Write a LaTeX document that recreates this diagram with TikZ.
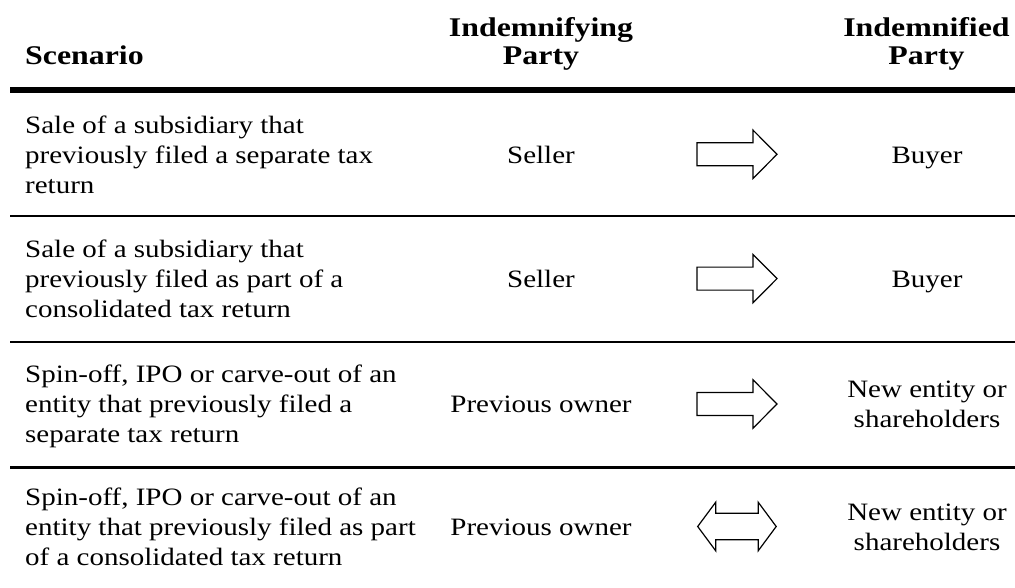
\documentclass[tikz,border=0pt]{standalone}
\usepackage{fontspec}
\setmainfont{Liberation Serif}[FakeStretch=1.16]
\newfontfamily\hdfont{Liberation Serif}[FakeStretch=1.18]
\begin{document}
\begin{tikzpicture}[x=1pt,y=-1pt,
  body/.style={inner sep=0pt, font=\fontsize{25}{30}\selectfont},
  bodyL/.style={body, anchor=base west},
  bodyC/.style={body, anchor=base},
  head/.style={inner sep=0pt, font=\hdfont\bfseries\fontsize{27}{30}\selectfont, anchor=base},
  headL/.style={head, anchor=base west},
  thinrule/.style={line width=2.7pt},
  thickrule/.style={line width=5.4pt},
  arrowshape/.style={draw=black, line width=1.2pt, fill=white, line join=miter},
  rarrow/.pic={\draw[arrowshape] (0,-11.5) -- (56,-11.5) -- (56,-24.2) -- (80,0) -- (56,24.2) -- (56,11.5) -- (0,11.5) -- cycle;},
  darrow/.pic={\draw[arrowshape] (0,0) -- (18,-24.3) -- (18,-13.2) -- (60.5,-13.2) -- (60.5,-24.3) -- (78.5,0) -- (60.5,24.3) -- (60.5,13.2) -- (18,13.2) -- (18,24.3) -- cycle;}
]
\useasboundingbox (0,0) rectangle (1015,587);
% header
\node[headL] (hs) at (25,64) {Scenario};
\node[head] (hi1) at (541,36) {Indemnifying};
\node[head] (hi2) at (541,64) {Party};
\node[head] (hd1) at (926.5,36) {Indemnified};
\node[head] (hd2) at (926.5,64) {Party};
% rules
\draw[thickrule] (10,90) -- (1015,90);
\draw[thinrule] (10,216) -- (1015,216);
\draw[thinrule] (10,342) -- (1015,342);
\draw[thinrule] (10,467.5) -- (1015,467.5);
% row 1
\node[bodyL] (a1) at (25,133.3) {Sale of a subsidiary that};
\node[bodyL] (a2) at (25,163.3) {previously filed a separate tax};
\node[bodyL] (a3) at (25,193.3) {return};
\node[bodyC] (a4) at (541,163.3) {Seller};
\pic at (697,154.3) {rarrow};
\node[bodyC] (a5) at (927,163.3) {Buyer};
% row 2
\node[bodyL] (b1) at (25,257.5) {Sale of a subsidiary that};
\node[bodyL] (b2) at (25,287.5) {previously filed as part of a};
\node[bodyL] (b3) at (25,317.5) {consolidated tax return};
\node[bodyC] (b4) at (541,287.5) {Seller};
\pic at (697,278.6) {rarrow};
\node[bodyC] (b5) at (927,287.5) {Buyer};
% row 3
\node[bodyL] (c1) at (25,382) {Spin-off, IPO or carve-out of an};
\node[bodyL] (c2) at (25,412) {entity that previously filed a};
\node[bodyL] (c3) at (25,442) {separate tax return};
\node[bodyC] (c4) at (541,412) {Previous owner};
\pic at (697,404) {rarrow};
\node[bodyC] (c5) at (927,397) {New entity or};
\node[bodyC] (c6) at (927,427) {shareholders};
% row 4
\node[bodyL] (d1) at (25,505.5) {Spin-off, IPO or carve-out of an};
\node[bodyL] (d2) at (25,535.5) {entity that previously filed as part};
\node[bodyL] (d3) at (25,565.5) {of a consolidated tax return};
\node[bodyC] (d4) at (541,535.5) {Previous owner};
\pic at (697.7,526.5) {darrow};
\node[bodyC] (d5) at (927,520.5) {New entity or};
\node[bodyC] (d6) at (927,550.5) {shareholders};
\end{tikzpicture}
\end{document}
